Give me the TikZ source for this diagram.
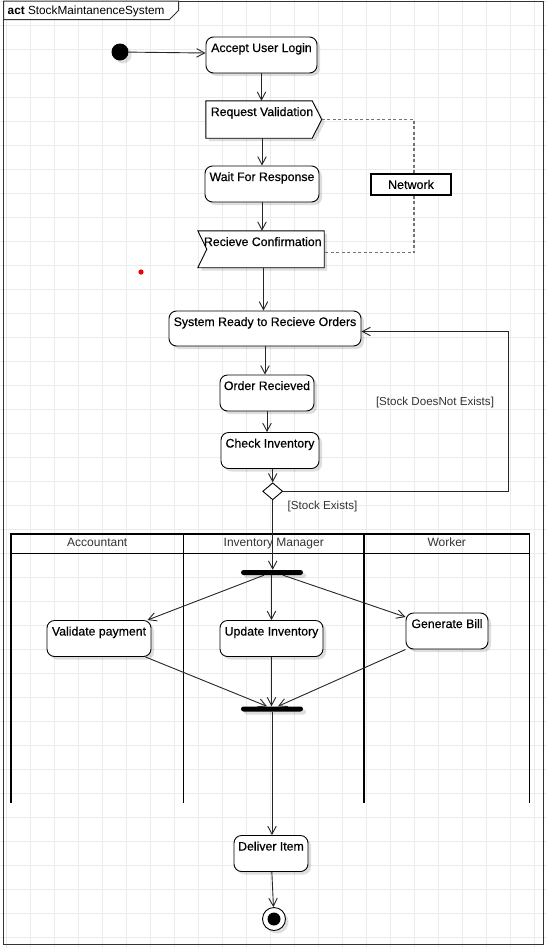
\documentclass[tikz,border=0pt]{standalone}
\usepackage{fontspec}
\setmainfont{Liberation Sans}
\newfontfamily\actionfont{Liberation Sans}[FakeBold=0.45]
\usetikzlibrary{arrows.meta,shapes.geometric,shadows}

\begin{document}
\begin{tikzpicture}[x=1pt,y=-1pt,
  every node/.style={font=\actionfont\fontsize{12.3}{14}\selectfont},
  softshadow/.style={general shadow={shadow xshift=3pt,shadow yshift=-3pt,fill=black,opacity=0.13}},
  actbox/.style={draw=black,line width=0.9pt,fill=white,rounded corners=7.5pt,softshadow,
    inner sep=0pt,text height=15pt,text depth=21pt,minimum height=36pt},
  sigframe/.style={inner sep=0pt,minimum height=37pt},
  sigline/.style={draw=black,line width=0.9pt,fill=white,softshadow},
  sigtext/.style={anchor=base,inner sep=0pt},
  flow/.style={draw=black!85,line width=0.9pt,-{Straight Barb[length=8pt,width=8.5pt]}},
  objlink/.style={draw=black!55,line width=1.1pt,dash pattern=on 3pt off 2.5pt},
  guard/.style={text=black!80,font=\rmfamily\fontsize{11.6}{14}\selectfont,inner sep=0pt,anchor=base},
  lane/.style={draw=black,line width=1.8pt},
  lanehead/.style={text=black!80,font=\rmfamily\fontsize{12}{14}\selectfont,inner sep=0pt,anchor=base},
  bar/.style={fill=black,rounded corners=2.5pt,minimum width=62pt,minimum height=5pt,inner sep=0pt,softshadow},
  gridline/.style={draw=black!8,line width=0.9pt},
]
\useasboundingbox (0,0) rectangle (547,948);
\fill[white] (0,0) rectangle (547,948);

% background grid
\foreach \i in {0,...,22} \draw[gridline] ({6.7+24*\i},0) -- ({6.7+24*\i},948);
\foreach \j in {0,...,39} \draw[gridline] (0,{1.3+24*\j}) -- (547,{1.3+24*\j});

% activity frame with its name tab
\draw[black!80,line width=1pt] (3.5,1) rectangle (543,944);
\filldraw[fill=white,draw=black!80,line width=1pt] (3.5,1) -- (178.5,1) -- (178.5,10.5) -- (169.5,19.5) -- (3.5,19.5) -- cycle;
\node[anchor=base west,inner sep=0pt,font=\rmfamily\fontsize{11.8}{14}\selectfont] (title) at (7.5,14) {\textbf{act} StockMaintanenceSystem};

% swimlanes
\draw[lane] (11,802.5) -- (11,534) -- (529.5,534) -- (529.5,802.5);
\draw[lane] (11,553.5) -- (529.5,553.5);
\draw[lane] (183.5,534) -- (183.5,802.5);
\draw[lane] (364,534) -- (364,802.5);
\node[lanehead] (hacc) at (97.25,546) {Accountant};
\node[lanehead] (hinv) at (273.75,546) {Inventory Manager};
\node[lanehead] (hwrk) at (446.75,546) {Worker};

% stray marker
\fill[red!95!black] (141,272) circle (2.6pt);

% upper flow
\node[circle,fill=black,minimum size=17pt,inner sep=0pt,softshadow] (init) at (120,52) {};
\node[actbox,minimum width=111pt] (acc) at (261.5,55) {Accept User Login};

\node[sigframe,minimum width=115.5pt] (req) at (263.75,119.5) {};
\draw[sigline] (req.north west) -- ([xshift=-9.5pt]req.north east) -- (req.east)
  -- ([xshift=-9.5pt]req.south east) -- (req.south west) -- cycle;
\node[sigtext] (reqtext) at (262,116) {Request Validation};

\node[actbox,minimum width=114pt] (wait) at (262,184) {Wait For Response};

\node[sigframe,minimum width=126pt,minimum height=36.5pt] (rec) at (261,249.25) {};
\draw[sigline] (rec.north west) -- (rec.north east) -- (rec.south east)
  -- (rec.south west) -- ([xshift=9pt]rec.west) -- cycle;
\node[sigtext] (rectext) at (262.8,246) {Recieve Confirmation};

\node[draw=black,line width=1.2pt,fill=white,minimum width=80pt,minimum height=21pt,inner sep=0pt,
  font=\actionfont\fontsize{12.5}{14}\selectfont] (net) at (411,184.5) {Network};

\node[actbox,minimum width=192pt,minimum height=35pt,text depth=20pt] (sys) at (265,328.5) {System Ready to Recieve Orders};
\node[actbox,minimum width=94pt] (ord) at (267,393) {Order Recieved};
\node[actbox,minimum width=98pt] (chk) at (270,450.5) {Check Inventory};
\node[diamond,draw=black,line width=0.9pt,fill=white,minimum width=20pt,minimum height=17pt,inner sep=0pt] (dec) at (272.7,491.3) {};

% parallel part
\node[bar] (fork) at (272,572.5) {};
\node[actbox,minimum width=104pt] (val) at (99,638.5) {Validate payment};
\node[actbox,minimum width=103pt] (upd) at (271.5,638.5) {Update Inventory};
\node[actbox,minimum width=82pt] (gen) at (447,631) {Generate Bill};
\node[bar] (join) at (272,709) {};

\node[actbox,minimum width=74pt] (del) at (271,853.5) {Deliver Item};
\node[circle,draw=black,line width=0.9pt,fill=white,minimum size=23pt,inner sep=0pt,softshadow] (fin) at (274,919) {};
\fill (fin.center) circle (6.5pt);

% object flow through the network
\draw[objlink] (req.east) -| ([xshift=3pt]net.north);
\draw[objlink] ([xshift=3pt]net.south) |- ([yshift=-3.5pt]rec.east);

% control flow
\draw[flow] (init) -- ([yshift=2pt]acc.west);
\draw[flow] (acc.south) -- (acc.south |- req.north);
\draw[flow] (wait.north |- req.south) -- (wait.north);
\draw[flow] (wait.south) -- (wait.south |- rec.north);
\draw[flow] ([xshift=-1.5pt]sys.north |- rec.south) -- ([xshift=-1.5pt]sys.north);
\draw[flow] (sys.south) -- (sys.south |- ord.north);
\draw[flow] (ord.south) -- (ord.south |- chk.north);
\draw[flow] (dec.north |- chk.south) -- (dec.north);
\draw[flow] (dec.east) -- ++(225,0) |- ([yshift=-3pt]sys.east);
\draw[flow] (dec.south) -- (dec.south |- fork.north);

\draw[flow] ([xshift=-8pt]fork.south) -- ([xshift=-4pt]val.north east);
\draw[flow] (upd.north |- fork.south) -- (upd.north);
\draw[flow] ([xshift=11pt]fork.south) -- ([yshift=-4.5pt]gen.north west);
\draw[flow] ([xshift=-6pt]val.south east) -- ([xshift=-5pt]join.north);
\draw[flow] (upd.south) -- (upd.south |- join.north);
\draw[flow] (gen.south west) -- ([xshift=6pt]join.north);
\draw[flow] (join.south) -- (join.south |- del.north);
\draw[flow] (del) -- (fin);

% guards
\node[guard] (gnot) at (435,405) {[Stock DoesNot Exists]};
\node[guard] (gyes) at (322.5,509.5) {[Stock Exists]};
\end{tikzpicture}
\end{document}
